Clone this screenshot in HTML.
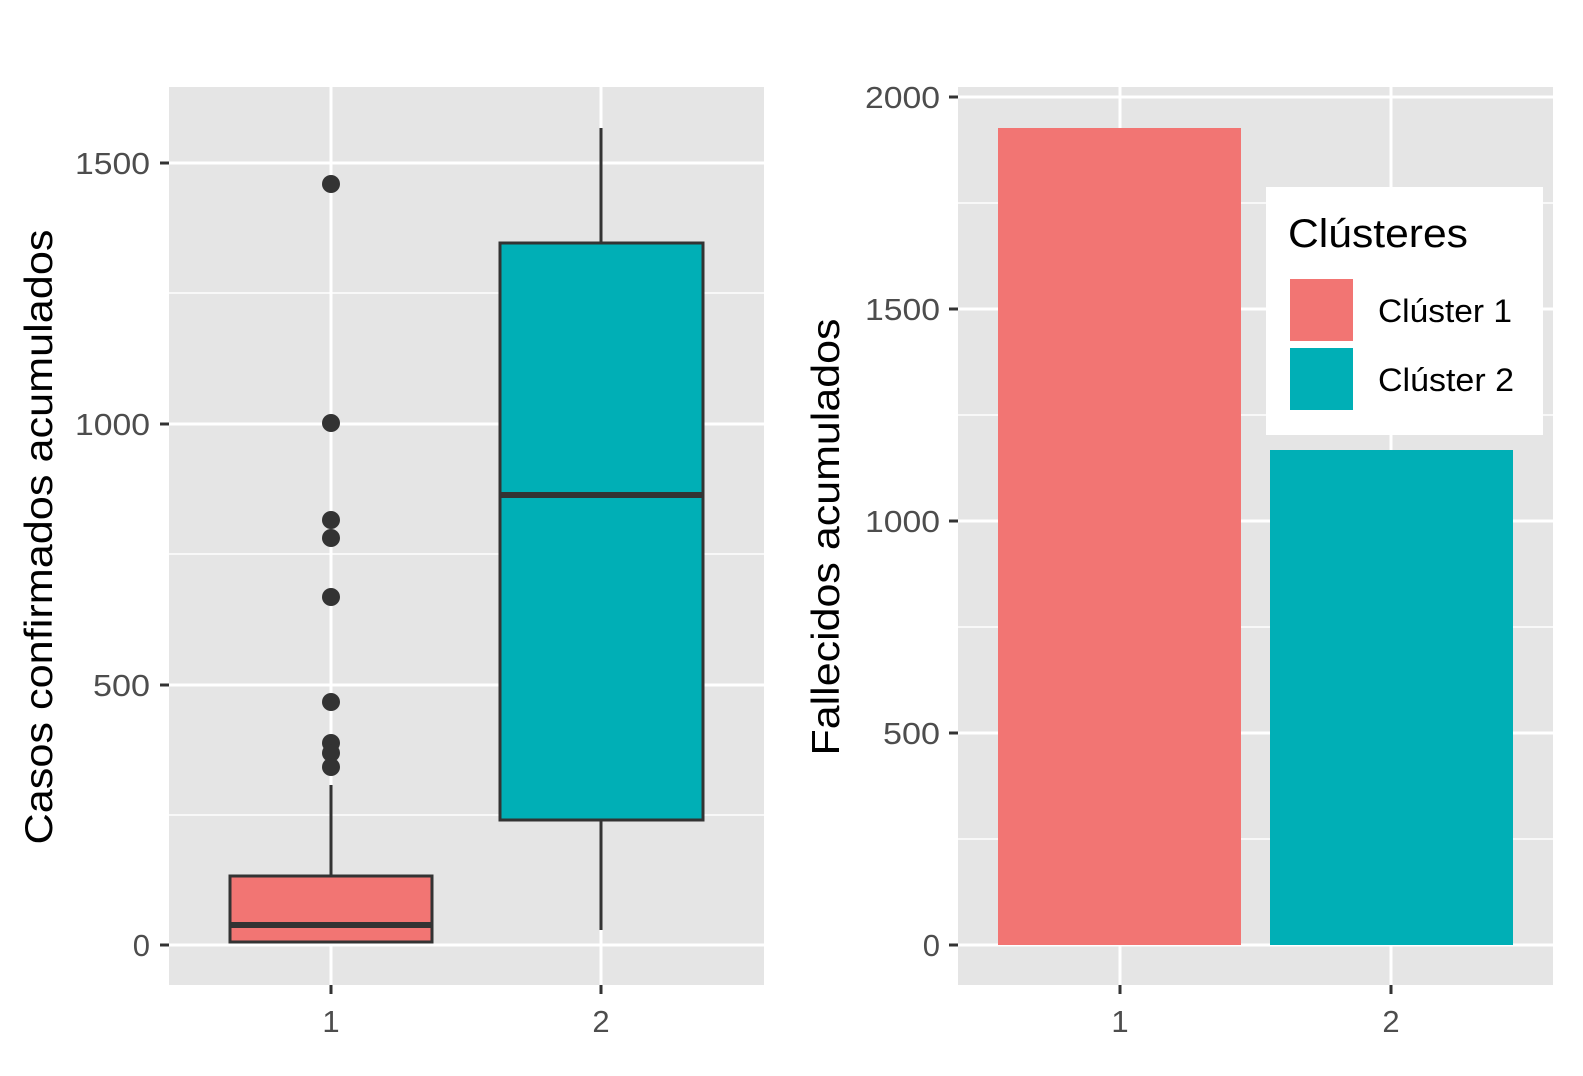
<!DOCTYPE html>
<html><head><meta charset="utf-8"><style>html,body{margin:0;padding:0;background:#fff}</style></head>
<body>
<svg width="1583" height="1071" xmlns="http://www.w3.org/2000/svg" font-family="Liberation Sans, Arial, sans-serif">
<rect width="1583" height="1071" fill="#fff"/>
<rect x="169" y="87" width="595" height="898" fill="#e5e5e5"/>
<g stroke="#fff" stroke-width="1.5">
<line x1="169" x2="764" y1="293" y2="293"/><line x1="169" x2="764" y1="554" y2="554"/><line x1="169" x2="764" y1="815" y2="815"/>
</g>
<g stroke="#fff" stroke-width="3">
<line x1="169" x2="764" y1="163" y2="163"/><line x1="169" x2="764" y1="424" y2="424"/><line x1="169" x2="764" y1="685" y2="685"/><line x1="169" x2="764" y1="945" y2="945"/>
<line x1="331" x2="331" y1="87" y2="985"/><line x1="601" x2="601" y1="87" y2="985"/>
</g>
<g stroke="#333" stroke-width="3" fill="none">
<line x1="331" x2="331" y1="785" y2="876"/>
<rect x="230" y="876" width="202" height="66" fill="#f27573"/>
<line x1="230" x2="432" y1="925" y2="925" stroke-width="6"/>
<line x1="601" x2="601" y1="128" y2="243"/><line x1="601" x2="601" y1="820" y2="930"/>
<rect x="500" y="243" width="203" height="577" fill="#00afb6"/>
<line x1="500" x2="703" y1="495" y2="495" stroke-width="6"/>
</g>
<g fill="#333">
<circle cx="331" cy="184" r="9"/><circle cx="331" cy="423" r="9"/><circle cx="331" cy="520" r="9"/><circle cx="331" cy="538" r="9"/><circle cx="331" cy="597" r="9"/><circle cx="331" cy="702" r="9"/><circle cx="331" cy="743" r="9"/><circle cx="331" cy="753" r="9"/><circle cx="331" cy="767" r="9"/>
</g>
<g stroke="#333" stroke-width="3">
<line x1="160" x2="169" y1="163" y2="163"/><line x1="160" x2="169" y1="424" y2="424"/><line x1="160" x2="169" y1="685" y2="685"/><line x1="160" x2="169" y1="945" y2="945"/>
<line x1="331" x2="331" y1="985" y2="994"/><line x1="601" x2="601" y1="985" y2="994"/>
</g>
<g fill="#4d4d4d" font-size="31" text-anchor="end" lengthAdjust="spacingAndGlyphs">
<text x="150" y="174" textLength="75" lengthAdjust="spacingAndGlyphs">1500</text><text x="150" y="435" textLength="75" lengthAdjust="spacingAndGlyphs">1000</text><text x="150" y="696" textLength="57" lengthAdjust="spacingAndGlyphs">500</text><text x="150" y="956">0</text>
</g>
<g fill="#4d4d4d" font-size="31" text-anchor="middle">
<text x="331" y="1032">1</text><text x="601" y="1032">2</text>
</g>
<text transform="translate(52,537) rotate(-90)" font-size="39" text-anchor="middle" fill="#000" textLength="615" lengthAdjust="spacingAndGlyphs">Casos confirmados acumulados</text>
<rect x="958" y="87" width="595" height="898" fill="#e5e5e5"/>
<g stroke="#fff" stroke-width="1.5">
<line x1="958" x2="1553" y1="839" y2="839"/><line x1="958" x2="1553" y1="627" y2="627"/><line x1="958" x2="1553" y1="415" y2="415"/><line x1="958" x2="1553" y1="203" y2="203"/>
</g>
<g stroke="#fff" stroke-width="3">
<line x1="958" x2="1553" y1="945" y2="945"/><line x1="958" x2="1553" y1="733" y2="733"/><line x1="958" x2="1553" y1="521" y2="521"/><line x1="958" x2="1553" y1="309" y2="309"/><line x1="958" x2="1553" y1="97" y2="97"/>
<line x1="1120" x2="1120" y1="87" y2="985"/><line x1="1391" x2="1391" y1="87" y2="985"/>
</g>
<rect x="998" y="128" width="243" height="817" fill="#f27573"/>
<rect x="1270" y="450" width="243" height="495" fill="#00afb6"/>
<g stroke="#333" stroke-width="3">
<line x1="949" x2="958" y1="945" y2="945"/><line x1="949" x2="958" y1="733" y2="733"/><line x1="949" x2="958" y1="521" y2="521"/><line x1="949" x2="958" y1="309" y2="309"/><line x1="949" x2="958" y1="97" y2="97"/>
<line x1="1120" x2="1120" y1="985" y2="994"/><line x1="1391" x2="1391" y1="985" y2="994"/>
</g>
<g fill="#4d4d4d" font-size="31" text-anchor="end">
<text x="940" y="956">0</text><text x="940" y="744" textLength="57" lengthAdjust="spacingAndGlyphs">500</text><text x="940" y="532" textLength="75" lengthAdjust="spacingAndGlyphs">1000</text><text x="940" y="320" textLength="75" lengthAdjust="spacingAndGlyphs">1500</text><text x="940" y="108" textLength="75" lengthAdjust="spacingAndGlyphs">2000</text>
</g>
<g fill="#4d4d4d" font-size="31" text-anchor="middle">
<text x="1120" y="1032">1</text><text x="1391" y="1032">2</text>
</g>
<text transform="translate(839,537) rotate(-90)" font-size="39" text-anchor="middle" fill="#000" textLength="437" lengthAdjust="spacingAndGlyphs">Fallecidos acumulados</text>
<rect x="1266" y="187" width="277" height="248" fill="#fff"/>
<text x="1288" y="247" font-size="40" fill="#000" textLength="180" lengthAdjust="spacingAndGlyphs">Clústeres</text>
<rect x="1290" y="279" width="63" height="62" fill="#f27573"/>
<rect x="1290" y="348" width="63" height="62" fill="#00afb6"/>
<text x="1378" y="322" font-size="32" fill="#000" textLength="134" lengthAdjust="spacingAndGlyphs">Clúster 1</text>
<text x="1378" y="391" font-size="32" fill="#000" textLength="136" lengthAdjust="spacingAndGlyphs">Clúster 2</text>
</svg>
</body></html>
